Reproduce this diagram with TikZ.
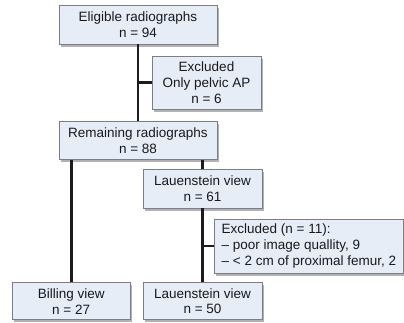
\documentclass[tikz,border=0pt]{standalone}
\usepackage{fontspec}
\setmainfont{Liberation Sans}
\usepackage{tikz}
\usetikzlibrary{positioning, shadows}
\definecolor{boxfill}{RGB}{231,237,246}
\definecolor{boxline}{RGB}{125,125,135}
\definecolor{linkdark}{RGB}{28,28,30}
\definecolor{textdark}{RGB}{25,25,30}
\tikzset{
  flowbox/.style={
    draw=boxline, line width=0.8bp, fill=boxfill, text=textdark,
    align=center, inner sep=4bp,
    drop shadow={shadow xshift=2bp, shadow yshift=-2.5bp, fill=black, opacity=0.3}
  },
  link/.style={draw=linkdark, line width=2.7bp}
}

\begin{document}
\begin{tikzpicture}[x=1bp, y=1bp, font=\fontsize{13.5bp}{15.7bp}\selectfont]
  \useasboundingbox (0,0) rectangle (404,-323);

  \node[flowbox, minimum width=158bp, minimum height=39bp] (elig) at (138,-24.5) {Eligible radiographs\\n = 94};
  \node[flowbox, minimum width=109bp, minimum height=53bp] (excl1) at (206.5,-82.5) {Excluded\\Only pelvic AP\\n = 6};
  \node[flowbox, minimum width=158bp, minimum height=38bp, below=77bp of elig] (remain) {Remaining radiographs\\n = 88};
  \node[flowbox, minimum width=119bp, minimum height=39bp] (lauen1) at (202.5,-188.5) {Lauenstein view\\n = 61};
  \node[flowbox, align=left, inner xsep=6bp, minimum width=189bp, minimum height=54bp, anchor=west] (excl2) at (214,-246) {Excluded (n = 11):\\-- poor image quallity, 9\\-- < 2 cm of proximal femur, 2};
  \node[flowbox, minimum width=119bp, minimum height=37bp, below=74bp of lauen1] (lauen2) {Lauenstein view\\n = 50};
  \node[flowbox, minimum width=118bp, minimum height=37bp, left=12bp of lauen2] (billing) {Billing view\\n = 27};

  \draw[link] (elig.south) -- (remain.north);
  \draw[link] (elig.south |- excl1.west) -- (excl1.west);
  \draw[link] (remain.south -| billing.north) -- (billing.north);
  \draw[link] (remain.south -| lauen1.north) -- (lauen1.north);
  \draw[link] (lauen1.south) -- (lauen2.north);
  \draw[link] (lauen1.south |- excl2.west) -- (excl2.west);
\end{tikzpicture}
\end{document}
